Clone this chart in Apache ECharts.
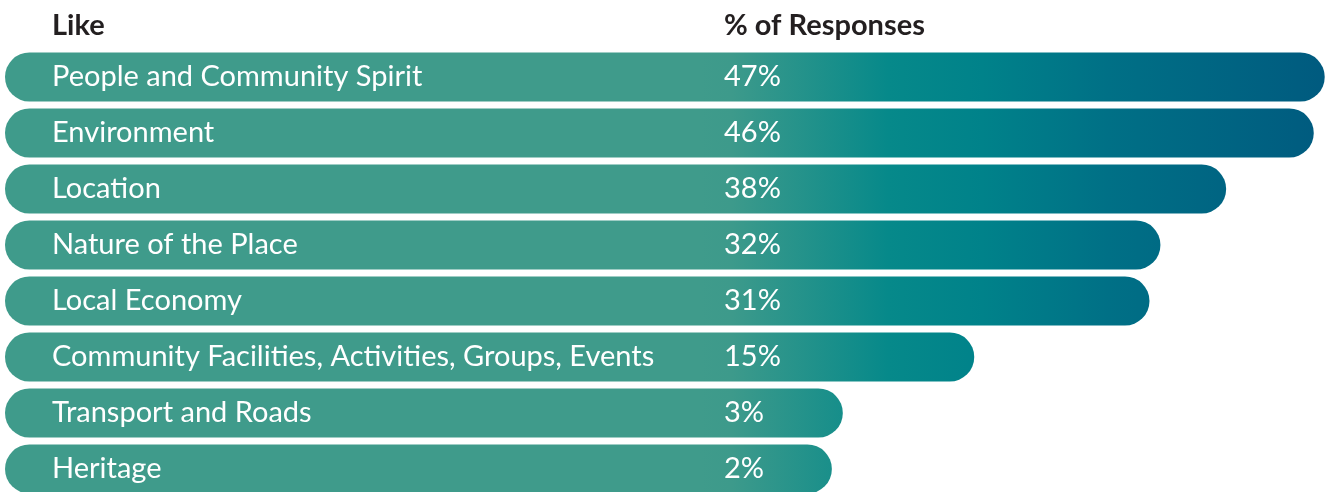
<!DOCTYPE html>
<html>
<head>
<meta charset="utf-8">
<script src="https://cdn.jsdelivr.net/npm/echarts@6/dist/echarts.min.js"></script>
<style>
  html, body { margin: 0; padding: 0; background: #fff; }
  #likes { width: 1328px; height: 492px; }
</style>
</head>
<body>
<div id="likes"></div>
<script>
var categories = ['People and Community Spirit', 'Environment', 'Location', 'Nature of the Place',
    'Local Economy', 'Community Facilities, Activities, Groups, Events', 'Transport and Roads', 'Heritage'];
var responses = [47, 46, 38, 32, 31, 15, 3, 2];
var headers = ['Like', '% of Responses'];

// bars start at the left edge, well before the zero point
var axisStart = -73.5;

var barColor = new echarts.graphic.LinearGradient(700, 0, 1328, 0, [
    { offset: 0, color: '#3f9b8b' },
    { offset: 0.05, color: '#3d9a8b' },
    { offset: 0.3, color: '#06898a' },
    { offset: 0.45, color: '#00828a' },
    { offset: 0.65, color: '#007086' },
    { offset: 1, color: '#005a7f' }
], true);

var headStyle = { fontFamily: 'Lato', fontWeight: 'bold', fontSize: 29, color: '#231f20' };

var option = {
    animation: false,
    title: [
        { text: headers[0], left: 52, top: 11, padding: 0, textStyle: headStyle },
        { text: headers[1], left: 724, top: 11, padding: 0, textStyle: headStyle }
    ],
    grid: { left: 5, right: 0, top: 49, height: 448, outerBoundsMode: 'none' },
    xAxis: {
        type: 'value',
        min: axisStart,
        max: 47.3,
        startValue: axisStart,
        show: false
    },
    yAxis: {
        type: 'category',
        inverse: true,
        data: categories,
        show: false
    },
    series: [{
        type: 'bar',
        data: responses,
        barWidth: 49,
        itemStyle: { color: barColor, borderRadius: 24.5 },
        label: {
            show: true,
            position: 'insideLeft',
            distance: 47,
            formatter: function (p) {
                return '{a|' + p.name + '}{b|' + p.value + '%}';
            },
            rich: {
                a: { width: 672, fontFamily: 'Lato', fontSize: 29, color: '#fff' },
                b: { fontFamily: 'Lato', fontSize: 29, color: '#fff' }
            }
        }
    }]
};

var likes = echarts.init(document.getElementById('likes'));
likes.setOption(option);
</script>
</body>
</html>
